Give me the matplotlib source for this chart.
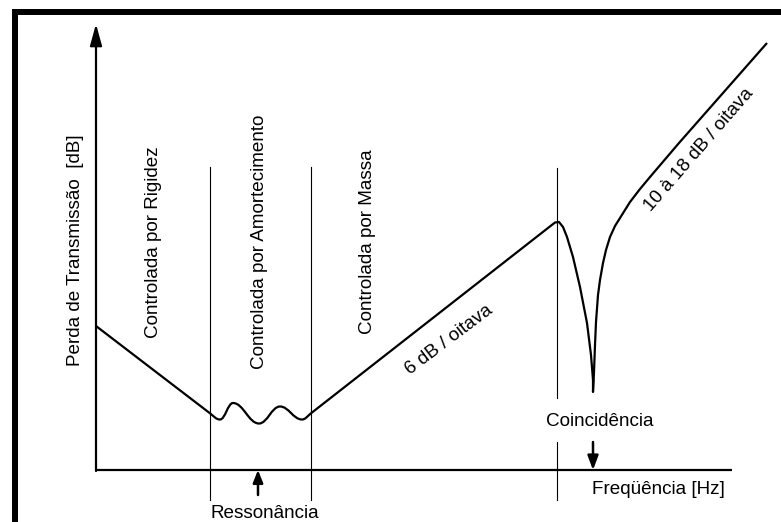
import matplotlib.pyplot as plt
from matplotlib.patches import Rectangle, PathPatch
from matplotlib.path import Path

plt.rcParams['font.family'] = ['Liberation Sans', 'DejaVu Sans']

# trecho controlado por rigidez (unidades do esquema, origem nos eixos)
rigidez_x = [0, 114]
rigidez_y = [144, 56.7]

# ondulacoes da ressonancia: minimos e maximos
onda_x = [124, 137, 163, 184, 206]
onda_y = [50.5, 67, 46.5, 63.5, 50.5]

# trecho controlado por massa e vale da coincidencia
massa_x = [215, 459, 463, 467, 471, 477, 484, 491, 495, 497, 497,
           498, 499, 500, 502, 504, 507, 510, 514, 519, 524, 529, 534, 544, 554, 583, 671]
massa_y = [56.7, 247.5, 248, 243, 233, 213, 183, 147, 115, 90, 78,
           98, 125, 148, 175, 190, 207, 220, 233, 244, 252, 260, 268, 281, 293, 327, 427]

# limites das regioes
limites = [114, 215]
coincidencia = 461
freq_coinc = 497
freq_ressonancia = 162

regioes = ['Controlada por Rigidez', 'Controlada por Amortecimento', 'Controlada por Massa']

fig = plt.figure(figsize=(7.81, 5.22), dpi=100)
ax = fig.add_axes([0, 0, 1, 1])
ax.set_xlim(-96, 685)
ax.set_ylim(-52, 470)
ax.axis('off')

fs = 13.6

# moldura
fig.add_artist(Rectangle((14.5 / 781, -0.2), 1.5, 1.2 - 12 / 522, transform=fig.transFigure,
                         fill=False, lw=4.3, ec='black', joinstyle='miter', clip_on=False))

# eixos
ax.plot([0, 636], [0, 0], color='black', lw=1.6, solid_capstyle='butt')
ax.annotate('', xy=(0, 446), xytext=(0, -1),
            arrowprops=dict(arrowstyle='-|>,head_length=1.3,head_width=0.36',
                            mutation_scale=10, lw=1.6, color='black',
                            shrinkA=0, shrinkB=0))

# linhas verticais das regioes
for x in limites:
    ax.plot([x, x], [-30, 303], color='black', lw=0.8)
ax.plot([coincidencia, coincidencia], [72, 302], color='black', lw=0.8)
ax.plot([coincidencia, coincidencia], [-30, 28], color='black', lw=0.8)

# curva: reta + ondulacoes suaves (bezier) + reta + vale
inclin_r = (rigidez_y[1] - rigidez_y[0]) / (rigidez_x[1] - rigidez_x[0])
inclin_m = (massa_y[1] - massa_y[0]) / (massa_x[1] - massa_x[0])
verts = [(rigidez_x[0], rigidez_y[0]), (rigidez_x[1], rigidez_y[1])]
codes = [Path.MOVETO, Path.LINETO]
x0, y0 = rigidez_x[1], rigidez_y[1]
d = (onda_x[0] - x0) * 0.4
verts += [(x0 + d, y0 + d * inclin_r), (onda_x[0] - d, onda_y[0]), (onda_x[0], onda_y[0])]
codes += [Path.CURVE4] * 3
for i in range(1, len(onda_x)):
    d = (onda_x[i] - onda_x[i - 1]) * 0.4
    verts += [(onda_x[i - 1] + d, onda_y[i - 1]), (onda_x[i] - d, onda_y[i]), (onda_x[i], onda_y[i])]
    codes += [Path.CURVE4] * 3
x1, y1 = massa_x[0], massa_y[0]
d = (x1 - onda_x[-1]) * 0.4
verts += [(onda_x[-1] + d, onda_y[-1]), (x1 - d, y1 - d * inclin_m), (x1, y1)]
codes += [Path.CURVE4] * 3
for x, y in zip(massa_x[1:], massa_y[1:]):
    verts.append((x, y))
    codes.append(Path.LINETO)
ax.add_patch(PathPatch(Path(verts, codes), fill=False, lw=1.6, ec='black', joinstyle='round'))

# setas
ax.annotate('', xy=(freq_ressonancia, 0), xytext=(freq_ressonancia, -25),
            arrowprops=dict(arrowstyle='-|>,head_length=0.75,head_width=0.3',
                            mutation_scale=10, lw=1.8, color='black',
                            shrinkA=0, shrinkB=0))
ax.annotate('', xy=(freq_coinc, 0), xytext=(freq_coinc, 28),
            arrowprops=dict(arrowstyle='-|>,head_length=0.85,head_width=0.32',
                            mutation_scale=10, lw=1.8, color='black',
                            shrinkA=0, shrinkB=0))

# textos
ax.text(-21, 220, 'Perda de Transmissão  [dB]', rotation=90, ha='center', va='center', fontsize=fs)
for x, lab in zip([57, 164, 272], regioes):
    ax.text(x, 228, lab, rotation=90, ha='center', va='center', fontsize=fs)
ax.text(353, 130, '6 dB / oitava', rotation=37, ha='center', va='center',
        rotation_mode='anchor', fontsize=fs)
ax.text(603, 320, '10 à 18 dB / oitava', rotation=49, ha='center', va='center',
        rotation_mode='anchor', fontsize=fs)
ax.text(504, 48, 'Coincidência', ha='center', va='center', fontsize=fs)
ax.text(562, -20, 'Freqüência [Hz]', ha='center', va='center', fontsize=fs)
ax.text(169, -43, 'Ressonância', ha='center', va='center', fontsize=fs)

fig.savefig('out.png', dpi=100)
